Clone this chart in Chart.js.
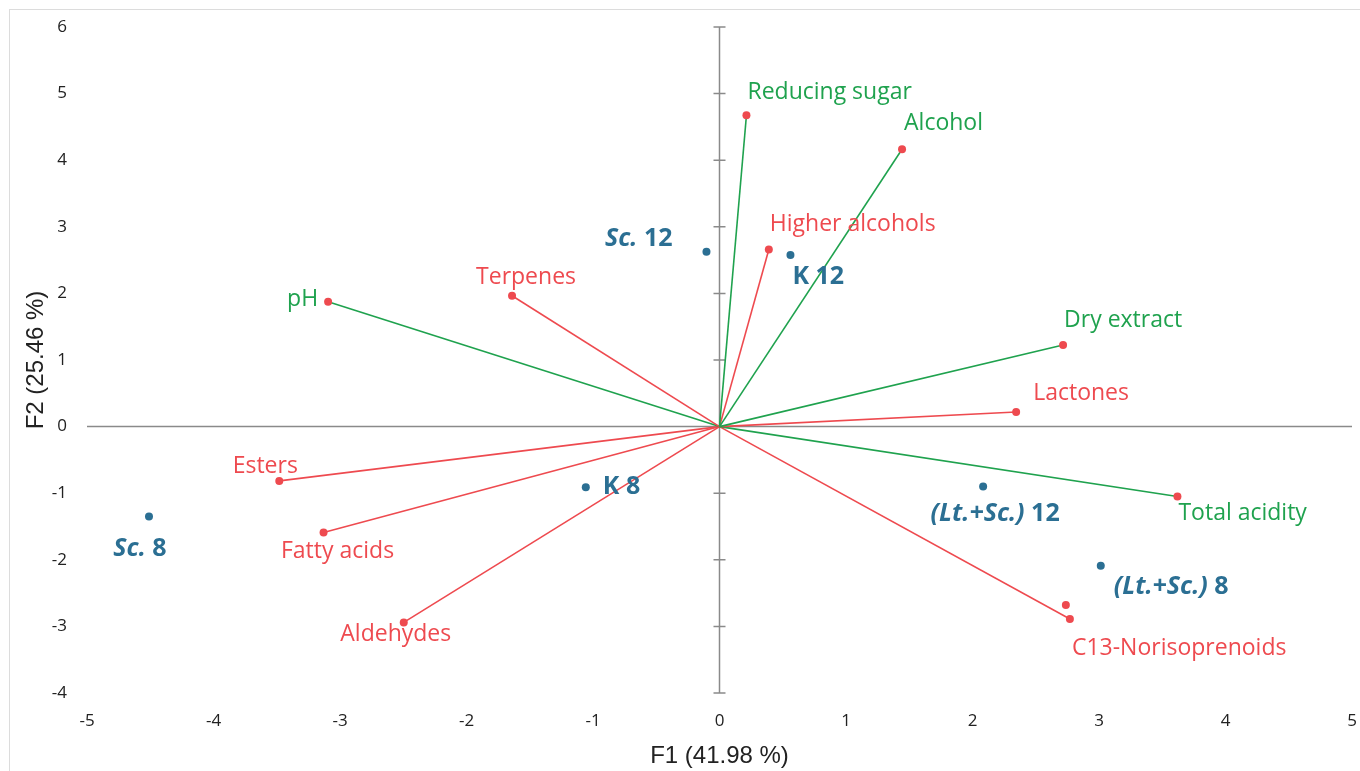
<!DOCTYPE html>
<html>
<head>
<meta charset="utf-8">
<script src="https://cdn.jsdelivr.net/npm/chart.js@4.4.1/dist/chart.umd.min.js"></script>
<style>
    html, body { margin: 0; padding: 0; background: #fff; overflow: hidden; }
    #wrap { width: 1360px; height: 771px; position: relative; }
    #pca-chart { display: block; }
</style>
</head>
<body>
<div id="wrap"><canvas id="pca-chart"></canvas></div>
<script>
// PCA biplot: F1 x F2

// variables (loadings)
const varNames = ['Reducing sugar', 'Alcohol', 'Higher alcohols', 'Terpenes', 'pH', 'Dry extract',
    'Lactones', 'Total acidity', 'C13-Norisoprenoids', 'Esters', 'Fatty acids', 'Aldehydes'];
const varX = [0.213, 1.443, 0.39, -1.64, -3.094, 2.716, 2.345, 3.62, 2.77, -3.48, -3.13, -2.496];
const varY = [4.675, 4.165, 2.66, 1.965, 1.875, 1.225, 0.22, -1.05, -2.89, -0.815, -1.59, -2.94];
// 'chem' = green vector, 'aroma' = red vector
const varGroup = ['chem', 'chem', 'aroma', 'aroma', 'chem', 'chem',
    'aroma', 'chem', 'aroma', 'aroma', 'aroma', 'aroma'];

// lone red dot next to C13-Norisoprenoids (no vector drawn)
const extraX = [2.738];
const extraY = [-2.68];

// observations (scores)
const obsPrefix = ['Sc.', 'K', 'K', 'Sc.', '(Lt.+Sc.)', '(Lt.+Sc.)'];
const obsSuffix = [' 12', ' 12', ' 8', ' 8', ' 12', ' 8'];
const obsX = [-0.103, 0.561, -1.057, -4.51, 2.084, 3.014];
const obsY = [2.625, 2.575, -0.909, -1.35, -0.90, -2.09];

const xTitle = 'F1 (41.98 %)';
const yTitle = 'F2 (25.46 %)';

// label placement (pixel offsets from the point, text align)
const varLabelAt = [
    [1, -23, 'left'], [2, -26, 'left'], [1, -25, 'left'], [14, -18, 'center'],
    [-10, -2, 'right'], [1, -25, 'left'], [17, -18, 'left'], [1, 17, 'left'],
    [2, 29, 'left'], [-14, -14, 'center'], [14, 19, 'center'], [-8, 12, 'center']
];
const obsLabelAt = [
    [-34, -13, 'right'], [2, 22, 'left'], [17, 0, 'left'],
    [-9, 32, 'center'], [12, 27, 'center'], [13, 21, 'left']
];
const obsItalic = [true, false, false, true, true, true];

const GREEN = '#1fa24e';
const RED = '#ee4a4f';
const BLUE = '#2b6f93';
const AXIS = '#8a8a8a';
const LABEL_FONT = '"Open Sans", "Noto Sans", sans-serif';

const frame = {
    id: 'frame',
    beforeDraw(chart) {
        const ctx = chart.ctx;
        ctx.save();
        ctx.strokeStyle = '#dcdcdc';
        ctx.lineWidth = 1;
        ctx.strokeRect(9.5, 9.5, chart.width + 20, chart.height + 20);
        ctx.restore();
    }
};

// axes through the origin
const crossAxes = {
    id: 'crossAxes',
    beforeDatasetsDraw(chart) {
        const { ctx, scales: { x, y } } = chart;
        const x0 = x.getPixelForValue(0);
        const y0 = y.getPixelForValue(0);
        ctx.save();
        ctx.strokeStyle = AXIS;
        ctx.lineWidth = 1.5;
        ctx.beginPath();
        ctx.moveTo(x.getPixelForValue(x.min), y0);
        ctx.lineTo(x.getPixelForValue(x.max), y0);
        ctx.moveTo(x0, y.getPixelForValue(y.min));
        ctx.lineTo(x0, y.getPixelForValue(y.max));
        for (let v = y.min; v <= y.max; v++) {
            const py = y.getPixelForValue(v);
            ctx.moveTo(x0 - 6, py);
            ctx.lineTo(x0 + 6, py);
        }
        ctx.stroke();
        ctx.restore();
    }
};

const pointLabels = {
    id: 'pointLabels',
    afterDatasetsDraw(chart) {
        const { ctx, scales: { x, y } } = chart;
        ctx.save();
        ctx.textBaseline = 'middle';

        ctx.font = '23px ' + LABEL_FONT;
        varNames.forEach((name, i) => {
            const [dx, dy, align] = varLabelAt[i];
            ctx.fillStyle = varGroup[i] === 'chem' ? GREEN : RED;
            ctx.textAlign = align;
            ctx.fillText(name, x.getPixelForValue(varX[i]) + dx, y.getPixelForValue(varY[i]) + dy);
        });

        ctx.fillStyle = BLUE;
        ctx.textAlign = 'left';
        obsPrefix.forEach((pre, i) => {
            const [dx, dy, align] = obsLabelAt[i];
            const f1 = (obsItalic[i] ? 'italic ' : '') + 'bold 25px ' + LABEL_FONT;
            const f2 = 'bold 25px ' + LABEL_FONT;
            ctx.font = f1;
            const w1 = ctx.measureText(pre).width;
            ctx.font = f2;
            const w2 = ctx.measureText(obsSuffix[i]).width;
            const total = w1 + w2;
            let left = x.getPixelForValue(obsX[i]) + dx;
            if (align === 'center') left -= total / 2;
            if (align === 'right') left -= total;
            const py = y.getPixelForValue(obsY[i]) + dy;
            ctx.font = f1;
            ctx.fillText(pre, left, py);
            ctx.font = f2;
            ctx.fillText(obsSuffix[i], left + w1, py);
        });
        ctx.restore();
    }
};

const datasets = varNames.map((name, i) => ({
    label: name,
    data: [{ x: 0, y: 0 }, { x: varX[i], y: varY[i] }],
    showLine: true,
    borderColor: varGroup[i] === 'chem' ? GREEN : RED,
    borderWidth: 1.6,
    pointRadius: [0, 4],
    pointBackgroundColor: RED,
    pointBorderColor: RED,
    pointBorderWidth: 0
}));

datasets.push({
    label: 'extra',
    data: extraX.map((v, i) => ({ x: v, y: extraY[i] })),
    pointRadius: 4,
    pointBackgroundColor: RED,
    pointBorderColor: RED,
    pointBorderWidth: 0
});

datasets.push({
    label: 'observations',
    data: obsX.map((v, i) => ({ x: v, y: obsY[i] })),
    pointRadius: 4,
    pointBackgroundColor: BLUE,
    pointBorderColor: BLUE,
    pointBorderWidth: 0
});

new Chart(document.getElementById('pca-chart'), {
    type: 'scatter',
    data: { datasets },
    options: {
        responsive: true,
        maintainAspectRatio: false,
        animation: false,
        layout: {
            padding: { top: 27, right: 8, left: 0, bottom: 0 }
        },
        plugins: {
            legend: { display: false },
            tooltip: { enabled: false }
        },
        scales: {
            x: {
                type: 'linear',
                min: -5,
                max: 5,
                afterFit(scale) {
                    scale.height = 78;
                    scale.paddingLeft = 0;
                    scale.paddingRight = 0;
                },
                grid: { display: false, drawTicks: false },
                border: { display: false },
                ticks: {
                    stepSize: 1,
                    padding: 18,
                    color: '#222',
                    font: { family: LABEL_FONT, size: 17 }
                },
                title: {
                    display: true,
                    text: xTitle,
                    color: '#222',
                    padding: { top: 0, bottom: 0 },
                    font: { family: '"Liberation Sans", Arial, sans-serif', size: 24 }
                }
            },
            y: {
                type: 'linear',
                min: -4,
                max: 6,
                afterFit(scale) {
                    scale.width = 87;
                    scale.paddingTop = 0;
                    scale.paddingBottom = 0;
                },
                grid: { display: false, drawTicks: false },
                border: { display: false },
                ticks: {
                    stepSize: 1,
                    padding: 20,
                    color: '#222',
                    font: { family: LABEL_FONT, size: 17 }
                },
                title: {
                    display: true,
                    text: yTitle,
                    color: '#222',
                    padding: { top: 22, bottom: 0 },
                    font: { family: '"Liberation Sans", Arial, sans-serif', size: 24 }
                }
            }
        }
    },
    plugins: [frame, crossAxes, pointLabels]
});
</script>
</body>
</html>
